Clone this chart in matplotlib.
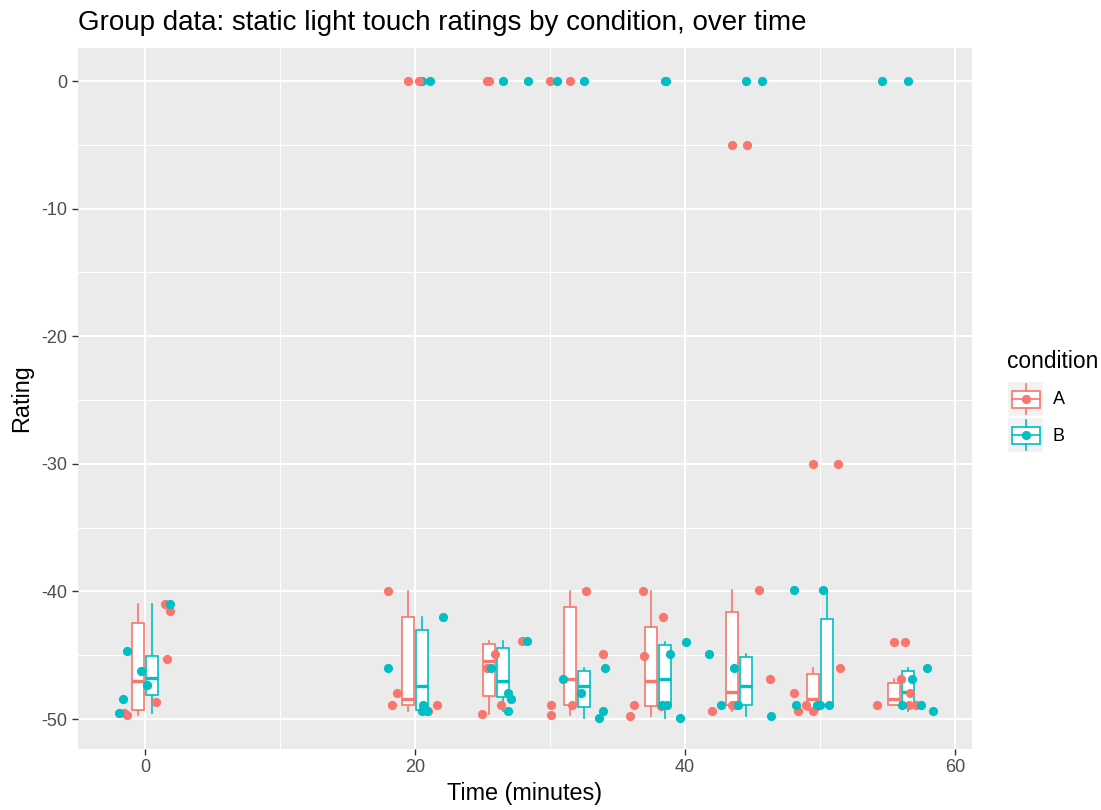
import numpy as np
import matplotlib
matplotlib.use('Agg')
import matplotlib.pyplot as plt
from matplotlib.patches import Rectangle

plt.rcParams['font.family'] = ['Liberation Sans', 'DejaVu Sans']
plt.rcParams['axes.unicode_minus'] = False

# Time points (minutes)
times = [0, 20, 26, 32, 38, 44, 50, 56]

# Ratings per time point (6 participants)
ratings_a = [
    [-41.0, -41.5, -45.3, -48.7, -49.7, -49.5],
    [-40.0, -48.0, -48.9, -48.9, -49.4, 0.0],
    [-44.9, -46.0, -48.9, -49.6, -43.9, 0.0],
    [-40.0, -48.9, -48.9, -49.7, -44.9, 0.0],
    [-40.0, -45.1, -48.9, -49.8, -42.0, -49.0],
    [-39.9, -46.9, -49.4, -48.9, -48.9, -5.0],
    [-46.0, -48.0, -48.9, -49.4, -49.4, -30.0],
    [-44.0, -46.9, -48.0, -48.9, -48.9, -48.9],
]
ratings_b = [
    [-41.0, -44.7, -46.2, -47.3, -48.4, -49.5],
    [-42.0, -46.0, -48.9, -49.4, -49.4, 0.0],
    [-46.0, -48.0, -48.4, -49.4, -43.9, 0.0],
    [-46.9, -48.0, -46.0, -49.4, -49.9, 0.0],
    [-44.9, -48.9, -48.9, -49.9, -44.0, 0.0],
    [-44.9, -46.0, -48.9, -48.9, -49.8, 0.0],
    [-39.9, -39.9, -48.9, -48.9, -48.9, -48.9],
    [-46.9, -48.9, -48.9, -46.0, -49.4, 0.0],
]
# Jittered time of each plotted point (same order as ratings)
jitter_a = [
    [1.5, 1.85, 1.6, 0.8, -1.3, -1.55],
    [18.0, 18.7, 18.3, 21.6, 21.0, 20.3],
    [25.9, 25.3, 26.4, 25.0, 27.9, 25.3],
    [32.7, 31.6, 30.1, 30.1, 33.9, 30.0],
    [36.9, 37.0, 36.2, 35.9, 38.4, 38.2],
    [45.5, 46.3, 42.0, 43.5, 43.7, 44.6],
    [51.5, 48.1, 49.0, 48.4, 49.5, 51.3],
    [56.3, 56.0, 56.7, 54.2, 56.6, 57.1],
]
jitter_b = [
    [1.85, -1.33, -0.3, 0.13, -1.6, -1.9],
    [22.1, 18.0, 20.6, 20.9, 20.5, 21.1],
    [25.6, 26.9, 27.1, 26.9, 28.3, 28.4],
    [31.0, 32.3, 34.1, 33.9, 33.6, 30.5],
    [38.9, 38.3, 38.7, 39.6, 40.1, 38.6],
    [41.8, 43.6, 42.7, 43.9, 46.4, 45.7],
    [48.1, 50.2, 48.2, 49.8, 50.0, 50.7],
    [56.8, 56.1, 57.5, 57.9, 58.4, 54.6],
]

col_a = '#F8766D'
col_b = '#00BFC4'
pt = 44

fig = plt.figure(figsize=(11.01, 8.10), dpi=100)
ax = fig.add_axes([78 / 1101, (810 - 749) / 810, (972 - 78) / 1101, (749 - 48) / 810])
ax.set_facecolor('#EBEBEB')
for s in ax.spines.values():
    s.set_visible(False)

ax.set_xlim(-4.96, 61.26)
ax.set_ylim(-52.35, 2.59)
ax.set_xticks([0, 20, 40, 60])
ax.set_xticks([10, 30, 50], minor=True)
ax.set_yticks([0, -10, -20, -30, -40, -50])
ax.set_yticks([-5, -15, -25, -35, -45], minor=True)
ax.grid(which='major', color='white', lw=1.4)
ax.grid(which='minor', color='white', lw=0.7)
ax.set_axisbelow(True)
ax.tick_params(which='major', length=4.5, width=1, color='#333333',
               labelsize=13, labelcolor='#4D4D4D', pad=3)
ax.tick_params(which='minor', length=0)


def box_stats(vals):
    v = np.array(vals)
    q1, med, q3 = np.percentile(v, [25, 50, 75])
    iqr = q3 - q1
    inside = v[(v >= q1 - 1.5 * iqr) & (v <= q3 + 1.5 * iqr)]
    out = v[(v < q1 - 1.5 * iqr) | (v > q3 + 1.5 * iqr)]
    return q1, med, q3, inside.min(), inside.max(), out


def draw_box(x, vals, col, w=0.9):
    q1, med, q3, lo, hi, out = box_stats(vals)
    ax.plot([x, x], [q3, hi], color=col, lw=1.2, zorder=2)
    ax.plot([x, x], [lo, q1], color=col, lw=1.2, zorder=2)
    ax.add_patch(Rectangle((x - w / 2, q1), w, q3 - q1, facecolor='white',
                           edgecolor=col, lw=1.2, zorder=2))
    ax.plot([x - w / 2, x + w / 2], [med, med], color=col, lw=2.4, zorder=3,
            solid_capstyle='butt')
    ax.scatter(np.full(len(out), x), out, s=pt, color=col, lw=0, zorder=3)


for t, ra, rb in zip(times, ratings_a, ratings_b):
    draw_box(t - 0.5, ra, col_a)
    draw_box(t + 0.5, rb, col_b)

for ja, ra, jb, rb in zip(jitter_a, ratings_a, jitter_b, ratings_b):
    ax.scatter(ja, ra, s=pt, color=col_a, lw=0, zorder=4)
    ax.scatter(jb, rb, s=pt, color=col_b, lw=0, zorder=4)

ax.set_xlabel('Time (minutes)', fontsize=16.8, labelpad=4)
ax.set_ylabel('Rating', fontsize=16.8, labelpad=6)
fig.text(78 / 1101, 1 - 30 / 810, 'Group data: static light touch ratings by condition, over time',
         fontsize=20, ha='left', va='baseline')

# legend
fig.text(1007 / 1101, 1 - 362 / 810, 'condition', fontsize=16.4, ha='left', va='center')
for i, (lab, col) in enumerate([('A', col_a), ('B', col_b)]):
    top = 382 + i * 36
    kax = fig.add_axes([1008 / 1101, 1 - (top + 34) / 810, 35 / 1101, 34 / 810])
    kax.set_xlim(0, 1)
    kax.set_ylim(0, 1)
    kax.set_facecolor('#F2F2F2')
    kax.set_xticks([])
    kax.set_yticks([])
    for s in kax.spines.values():
        s.set_visible(False)
    kax.plot([0.5, 0.5], [0.05, 0.25], color=col, lw=1.2)
    kax.plot([0.5, 0.5], [0.75, 0.95], color=col, lw=1.2)
    kax.add_patch(Rectangle((0.1, 0.25), 0.8, 0.5, facecolor='white', edgecolor=col, lw=1.2))
    kax.plot([0.1, 0.9], [0.5, 0.5], color=col, lw=1.2)
    kax.scatter([0.5], [0.5], s=pt, color=col, lw=0, zorder=3)
    fig.text(1053 / 1101, 1 - (top + 18) / 810, lab, fontsize=13, ha='left', va='center')

fig.savefig('out.png', dpi=100)
